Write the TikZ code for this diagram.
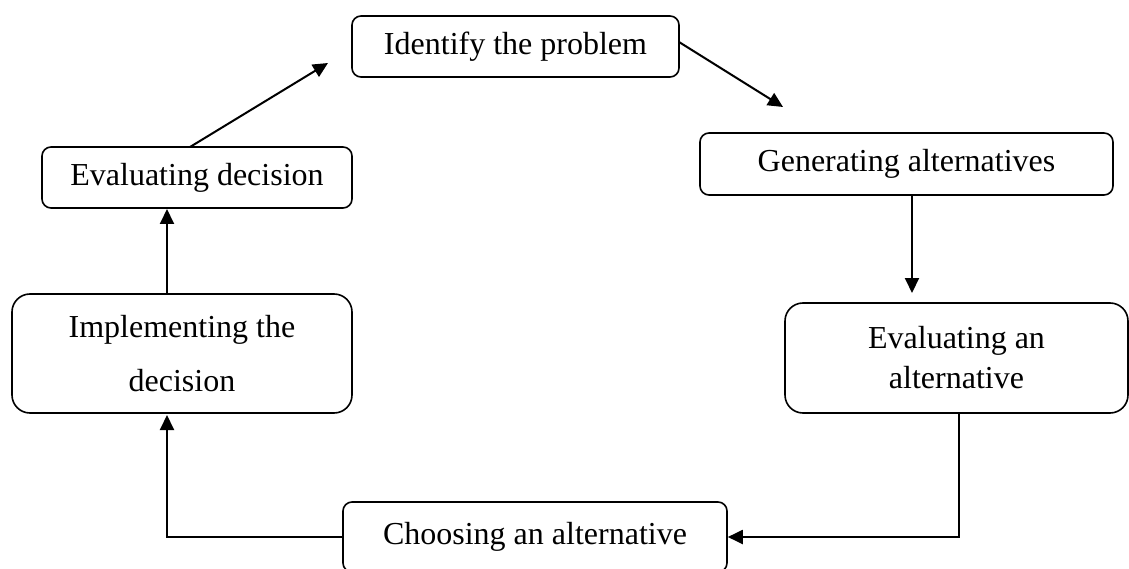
\documentclass[tikz,border=0pt]{standalone}
\usepackage{fontspec}
\setmainfont{Liberation Serif}
\usetikzlibrary{arrows.meta}
\begin{document}
\begin{tikzpicture}[x=1pt,y=-1pt,
  box/.style={draw=black,line width=1.6pt,rounded corners=9pt,inner sep=0pt,align=center,
    font=\fontsize{32}{40}\selectfont},
  bigbox/.style={box,rounded corners=18pt},
  arr/.style={line width=2pt,-{Triangle[length=15pt,width=14pt]}},
  ln/.style={line width=2pt}]
\useasboundingbox (0,0) rectangle (1129,569);
\node[box,minimum width=327pt,minimum height=61pt] (id) at (515.5,46.5) {Identify the problem};
\node[box,minimum width=413pt,minimum height=62pt] (gen) at (906.5,164) {Generating alternatives};
\node[bigbox,minimum width=343pt,minimum height=110pt] (ea) at (956.5,358) {Evaluating an\\alternative};
\node[box,minimum width=384pt,minimum height=70pt] (ch) at (535,537) {Choosing an alternative};
\node[bigbox,minimum width=340pt,minimum height=119pt,font=\fontsize{32}{54}\selectfont] (im) at (182,353.5) {Implementing the\\decision};
\node[box,minimum width=310pt,minimum height=61pt] (ed) at (197,177.5) {Evaluating decision};
\coordinate (t1) at (783,107);
\coordinate (t2) at (912,293);
\coordinate (c3) at (959,537);
\coordinate (c4) at (167,537);
\coordinate (t5) at (167,415);
\coordinate (s6) at (167,294);
\coordinate (t6) at (167,209);
\coordinate (s7) at (190,147);
\coordinate (t7) at (328,63);
\coordinate (s1) at (679,42);
\draw[arr] (s1) -- (t1);
\draw[arr] (gen.south -| t2) -- (t2);
\draw[arr] (ea.south -| c3) -- (c3) -- (ch.east);
\draw[arr] (ch.west) -- (c4) -- (t5);
\draw[arr] (s6) -- (t6);
\draw[arr] (s7) -- (t7);
\end{tikzpicture}
\end{document}
